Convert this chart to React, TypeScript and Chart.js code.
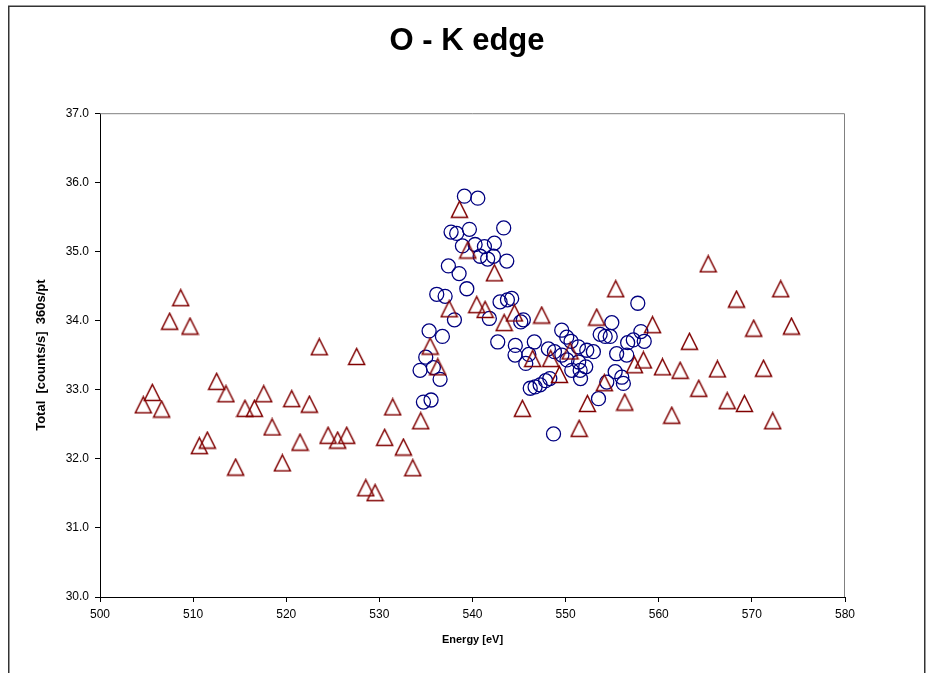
import { useEffect, useRef } from "react";
import { Chart, registerables } from "chart.js";

Chart.register(...registerables);

// Triangle series: total counts per energy step
const triangleEnergy = [
  504.65, 505.62, 506.62, 507.48, 508.67, 509.67, 510.67, 511.53, 512.53, 513.53,
  514.57, 515.57, 516.58, 517.58, 518.48, 519.58, 520.59, 521.48, 522.48, 523.55,
  524.49, 525.52, 526.49, 527.56, 528.54, 529.54, 530.57, 531.43, 532.58, 533.59,
  534.44, 535.45, 536.27, 537.49, 538.6, 539.49, 540.45, 541.35, 542.35, 543.4,
  544.5, 545.36, 546.46, 547.43, 548.4, 549.34, 550.48, 551.45, 552.34, 553.34,
  554.16, 555.38, 556.35, 557.39, 558.35, 559.33, 560.4, 561.4, 562.3, 563.3,
  564.3, 565.31, 566.3, 567.35, 568.35, 569.2, 570.2, 571.25, 572.24, 573.1,
  574.25,
];
const triangleCounts = [
  32.78, 32.96, 32.72, 33.99, 34.33, 33.92, 32.19, 32.27, 33.12, 32.94,
  31.88, 32.73, 32.73, 32.94, 32.46, 31.94, 32.87, 32.24, 32.79, 33.62,
  32.34, 32.27, 32.34, 33.48, 31.58, 31.51, 32.31, 32.75, 32.17, 31.87,
  32.55, 33.63, 33.33, 34.17, 35.61, 35.02, 34.23, 34.16, 34.69, 33.97,
  34.11, 32.73, 33.45, 34.08, 33.45, 33.22, 33.56, 32.44, 32.8, 34.05,
  33.1, 34.46, 32.82, 33.36, 33.43, 33.94, 33.33, 32.63, 33.28, 33.7,
  33.02, 34.82, 33.3, 32.84, 34.31, 32.8, 33.89, 33.31, 32.55, 34.46,
  33.92,
];

// Circle series: finer scan across the edge
const circleEnergy = [
  534.37, 534.73, 534.98, 535.34, 535.55, 535.8, 536.16, 536.52, 536.77, 537.06,
  537.41, 537.7, 538.06, 538.3, 538.56, 538.92, 539.13, 539.39, 539.67, 540.28,
  540.57, 540.82, 541.28, 541.63, 541.81, 542.25, 542.35, 542.71, 542.96, 543.35,
  543.68, 543.75, 544.21, 544.57, 544.6, 545.18, 545.46, 545.72, 546.05, 546.2,
  546.64, 546.72, 547.26, 547.85, 548.15, 548.3, 548.7, 548.8, 549.58, 549.6,
  550.12, 550.15, 550.58, 550.66, 551.37, 551.4, 551.56, 551.6, 552.16, 552.27,
  552.98, 553.53, 553.71, 554.25, 554.42, 554.79, 554.96, 555.32, 555.48, 556.03,
  556.2, 556.56, 556.66, 557.27, 557.75, 558.08, 558.44,
];
const circleCounts = [
  33.28, 32.82, 33.47, 33.85, 32.85, 33.32, 34.38, 33.15, 33.77, 34.35,
  34.79, 35.28, 34.01, 35.26, 34.68, 35.08, 35.8, 34.46, 35.32, 35.1,
  35.77, 34.93, 35.07, 34.89, 34.03, 34.93, 35.12, 33.69, 34.27, 35.34,
  34.86, 34.3, 34.32, 33.5, 33.64, 33.98, 34.01, 33.38, 33.51, 33.02,
  33.69, 33.04, 33.07, 33.13, 33.59, 33.16, 32.36, 33.55, 33.86, 33.5,
  33.76, 33.43, 33.7, 33.28, 33.62, 33.4, 33.28, 33.16, 33.33, 33.57,
  33.55, 32.87, 33.8, 33.77, 33.11, 33.77, 33.97, 33.26, 33.52, 33.18,
  33.09, 33.5, 33.68, 33.72, 34.25, 33.84, 33.7,
];

const energyTicks = [500, 510, 520, 530, 540, 550, 560, 570, 580];
const countTicks = [30, 31, 32, 33, 34, 35, 36, 37];

const chartTitle = "O - K edge";
const energyTitle = "Energy [eV]";
const countsTitle = "Total  [counts/s]  360s/pt";

const FONT = "'Liberation Sans', Arial, sans-serif";
const CIRCLE_COLOR = "#000080";
const TRIANGLE_COLOR = "#800000";

// Open triangle marker, apex up, centred in its own square box
function makeTriangle(color: string): HTMLCanvasElement {
  const c = document.createElement("canvas");
  c.width = 19;
  c.height = 19;
  const g = c.getContext("2d")!;
  g.strokeStyle = color;
  g.lineWidth = 1.5;
  g.beginPath();
  g.moveTo(9.5, 1.5);
  g.lineTo(17.5, 17.5);
  g.lineTo(1.5, 17.5);
  g.closePath();
  g.stroke();
  return c;
}

// White page, outer chart frame and grey top/right edges of the plot area
const framePlugin = {
  id: "frame",
  beforeDraw(chart: Chart) {
    const { ctx, width, height } = chart;
    ctx.save();
    ctx.fillStyle = "#fff";
    ctx.fillRect(0, 0, width, height);
    ctx.strokeStyle = "#333";
    ctx.lineWidth = 1.5;
    ctx.strokeRect(8.75, 6.25, 916, 720);
    ctx.restore();
  },
  beforeDatasetsDraw(chart: Chart) {
    const { ctx, chartArea } = chart;
    ctx.save();
    ctx.strokeStyle = "#808080";
    ctx.lineWidth = 1;
    ctx.beginPath();
    ctx.moveTo(chartArea.left, chartArea.top + 0.5);
    ctx.lineTo(chartArea.right - 0.5, chartArea.top + 0.5);
    ctx.lineTo(chartArea.right - 0.5, chartArea.bottom);
    ctx.stroke();
    ctx.restore();
  },
};

export default function App() {
  const canvasRef = useRef<HTMLCanvasElement | null>(null);

  useEffect(() => {
    const canvas = canvasRef.current;
    if (!canvas) return;

    const triangle = makeTriangle(TRIANGLE_COLOR);

    const chart = new Chart(canvas, {
      type: "scatter",
      data: {
        datasets: [
          {
            label: "triangles",
            data: triangleEnergy.map((x, i) => ({ x, y: triangleCounts[i] })),
            pointStyle: triangle,
            pointRadius: 8,
            borderColor: TRIANGLE_COLOR,
            backgroundColor: "transparent",
          },
          {
            label: "circles",
            data: circleEnergy.map((x, i) => ({ x, y: circleCounts[i] })),
            pointStyle: "circle",
            pointRadius: 7,
            borderWidth: 1.3,
            borderColor: CIRCLE_COLOR,
            backgroundColor: "rgba(0,0,0,0)",
          },
        ],
      },
      options: {
        responsive: false,
        animation: false,
        events: [],
        layout: { padding: 0 },
        plugins: {
          legend: { display: false },
          tooltip: { enabled: false },
          title: {
            display: true,
            text: chartTitle,
            color: "#000",
            font: { family: FONT, size: 31, weight: "bold", lineHeight: 1.2 },
            padding: { top: 23, bottom: 53 },
          },
        },
        scales: {
          x: {
            type: "linear",
            min: 500,
            max: 580,
            afterBuildTicks: (s: any) => {
              s.ticks = energyTicks.map((v) => ({ value: v }));
            },
            afterFit: (s: any) => {
              s.height = 76;
            },
            ticks: {
              color: "#000",
              font: { family: FONT, size: 12 },
              padding: 5,
              maxRotation: 0,
              autoSkip: false,
              callback: (v: any) => String(v),
            },
            grid: {
              drawOnChartArea: false,
              drawTicks: true,
              tickLength: 5,
              color: "#000",
            },
            border: { display: true, color: "#000", width: 1 },
            title: {
              display: true,
              text: energyTitle,
              color: "#000",
              font: { family: FONT, size: 11, weight: "bold", lineHeight: 1.2 },
              padding: { top: 0, bottom: 26 },
            },
          },
          y: {
            type: "linear",
            min: 30,
            max: 37,
            afterBuildTicks: (s: any) => {
              s.ticks = countTicks.map((v) => ({ value: v }));
            },
            afterFit: (s: any) => {
              s.width = 100;
            },
            ticks: {
              color: "#000",
              font: { family: FONT, size: 12 },
              padding: 6,
              autoSkip: false,
              callback: (v: any) => Number(v).toFixed(1),
            },
            grid: {
              drawOnChartArea: false,
              drawTicks: true,
              tickLength: 5,
              color: "#000",
            },
            border: { display: true, color: "#000", width: 1 },
            title: {
              display: true,
              text: countsTitle,
              color: "#000",
              font: { family: FONT, size: 13, weight: "bold", lineHeight: 1.2 },
              padding: { top: 34, bottom: 0 },
            },
          },
          // blank margin on the right of the plot area
          yRight: {
            type: "linear",
            position: "right",
            min: 30,
            max: 37,
            afterFit: (s: any) => {
              s.width = 89;
            },
            ticks: { display: false },
            grid: { display: false, drawTicks: false },
            border: { display: false },
          },
        },
      },
      plugins: [framePlugin],
    });

    return () => chart.destroy();
  }, []);

  return (
    <div
      style={{
        position: "absolute",
        left: 0,
        top: 0,
        width: 934,
        height: 673,
        overflow: "hidden",
        background: "#fff",
      }}
    >
      <canvas ref={canvasRef} width={934} height={673} style={{ display: "block" }} />
    </div>
  );
}
